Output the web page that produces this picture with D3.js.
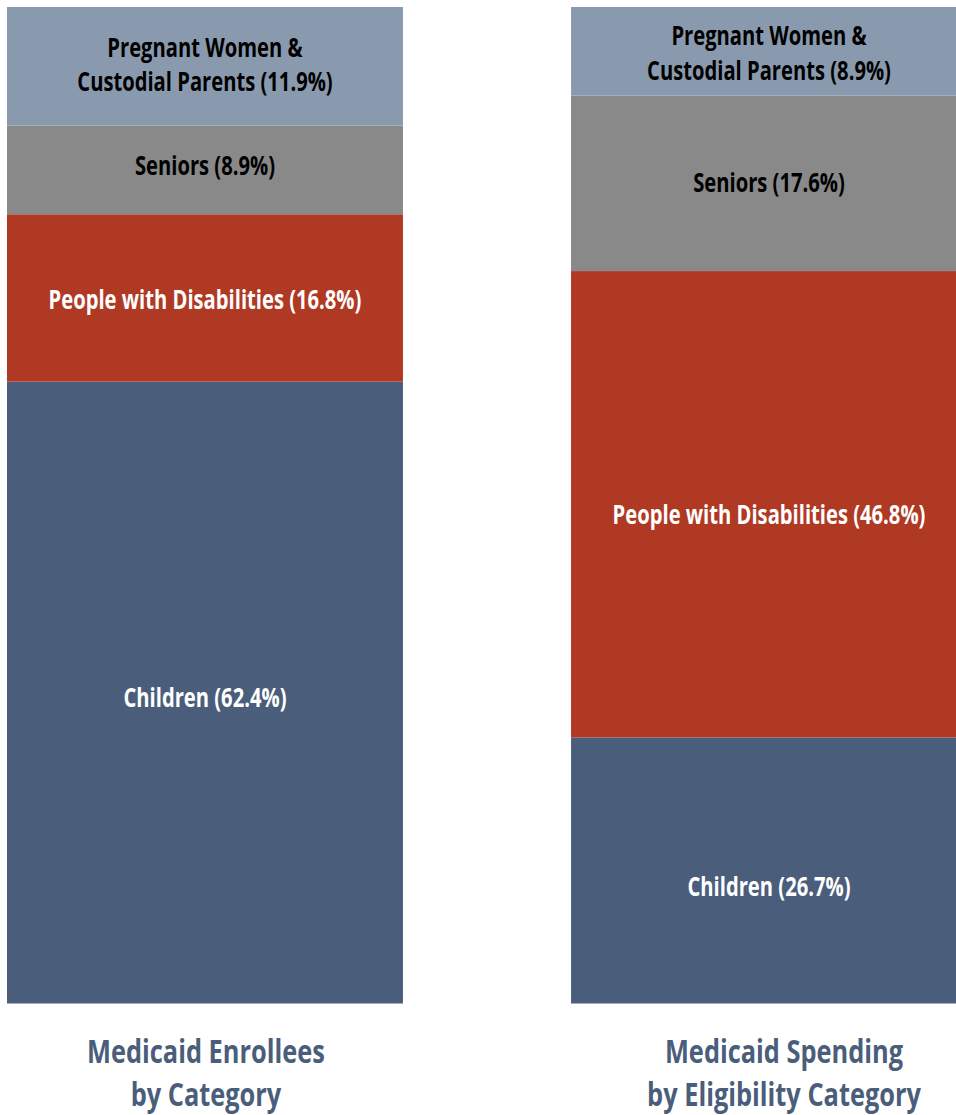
<!DOCTYPE html>
<html>
<head>
<meta charset="utf-8">
<script src="https://cdn.jsdelivr.net/npm/d3@7"></script>
<style>
  body { margin: 0; background: #fff; }
  svg text { font-family: "Open Sans", "DejaVu Sans", sans-serif; font-weight: bold; }
</style>
</head>
<body>
<div id="chart"></div>
<script>
// categories, bottom to top
const categories = ["Children", "People with Disabilities", "Seniors", "Pregnant Women & Custodial Parents"];
const enrollees = [62.4, 16.8, 8.9, 11.9];
const spending = [26.7, 46.8, 17.6, 8.9];
const barTitles = [["Medicaid Enrollees", "by Category"], ["Medicaid Spending", "by Eligibility Category"]];
const colors = ["#4a5e7b", "#b03924", "#898989", "#8a9aae"];
const textColors = ["#fff", "#fff", "#000", "#000"];

// label baseline nudges from segment middle (the original wasn't exactly centred)
const labelNudge = [[14.5, 11, 5, -9.5], [26, 19.5, 9, -6]];
const titleShift = [1, 15];

const width = 956;
const height = 1115;

const svg = d3.select("#chart")
  .append("svg")
  .attr("width", width)
  .attr("height", height);

// no condensed bold font installed, so squeeze text horizontally
function squeezeFactor(str, size, target) {
  const t = svg.append("text").attr("font-size", size).text(str);
  const w = t.node().getComputedTextLength();
  t.remove();
  return target / w;
}
const labelSize = 26;
const titleSize = 32;
const labelSx = squeezeFactor("People with Disabilities (16.8%)", labelSize, 313);
const titleSx = squeezeFactor("Medicaid Enrollees", titleSize, 238);

const x = d3.scaleBand()
  .domain([0, 1])
  .range([7, 967])
  .paddingInner(0.298)
  .paddingOuter(0);

const y = d3.scaleLinear()
  .domain([0, 100])
  .range([1003.5, 7]);

const color = d3.scaleOrdinal().domain(categories).range(colors);

const series = [enrollees, spending];

series.forEach((vals, i) => {
  let cum = 0;
  const segs = vals.map((v, j) => {
    const s = { cat: categories[j], v: v, y0: cum, y1: cum + v, j: j };
    cum += v;
    return s;
  });

  const g = svg.append("g");
  const cx = x(i) + x.bandwidth() / 2;

  g.selectAll("rect")
    .data(segs)
    .join("rect")
    .attr("x", x(i))
    .attr("width", Math.min(x.bandwidth(), width - x(i)))
    .attr("y", d => y(d.y1))
    .attr("height", d => y(d.y0) - y(d.y1))
    .attr("fill", d => color(d.cat));

  // labels
  segs.forEach(d => {
    const cy = (y(d.y0) + y(d.y1)) / 2 + labelNudge[i][d.j];
    const pct = " (" + d.v.toFixed(1) + "%)";
    const t = g.append("text")
      .attr("x", 0)
      .attr("text-anchor", "middle")
      .attr("font-size", labelSize + "px")
      .attr("fill", textColors[d.j])
      .attr("transform", `translate(${cx},0) scale(${labelSx},1)`);
    if (d.cat.startsWith("Pregnant")) {
      t.append("tspan").attr("x", 0).attr("y", cy).text("Pregnant Women &");
      t.append("tspan").attr("x", 0).attr("y", cy + 34.5).text("Custodial Parents" + pct);
    } else {
      t.attr("y", cy).text(d.cat + pct);
    }
  });

  // bar title
  svg.append("text")
    .attr("text-anchor", "middle")
    .attr("font-size", titleSize + "px")
    .attr("fill", "#4a5e7b")
    .attr("transform", `translate(${cx + titleShift[i]},0) scale(${titleSx},1)`)
    .selectAll("tspan")
    .data(barTitles[i])
    .join("tspan")
    .attr("x", 0)
    .attr("y", (d, k) => 1063 + k * 43)
    .text(d => d);
});
</script>
</body>
</html>
